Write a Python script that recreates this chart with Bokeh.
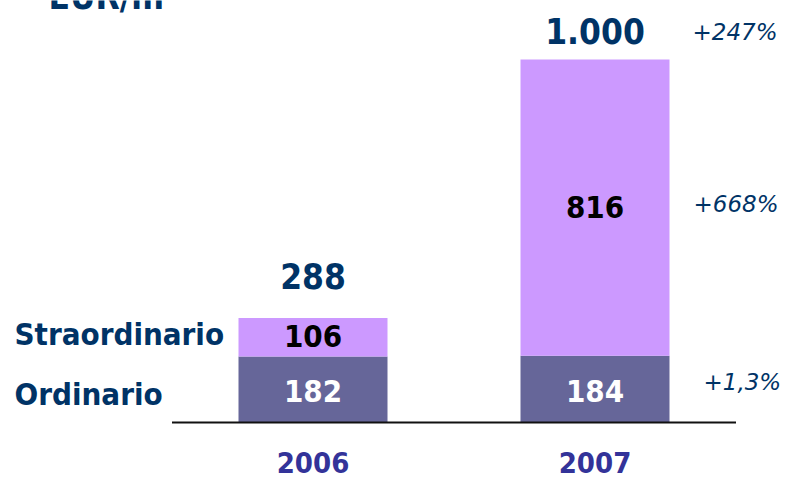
from bokeh.plotting import figure
from bokeh.models import Range1d, Label, ColumnDataSource
from bokeh.core.properties import value
from bokeh.embed import file_html
from bokeh.resources import INLINE

# ---- data ----
years = ["2006", "2007"]
ordinario = [182, 184]
straordinario = [106, 816]
total_labels = ["288", "1.000"]
ord_labels = ["182", "184"]
stra_labels = ["106", "816"]
series_names = ["Straordinario", "Ordinario"]
growth_total = "+247%"
growth_stra = "+668%"
growth_ord = "+1,3%"
unit_title = "EUR/m"

# ---- layout constants ----
W, H = 785, 479
BASE_PX = 422          # canvas y of zero line
PX_PER_UNIT = 0.363    # vertical pixels per value unit
X_PX = 282             # pixels between bar centres
X0_PX = 312.5          # canvas x of first bar centre

FONT = value("DejaVu Sans Condensed")
DARK = "#003366"
YEAR_C = "#333399"
ORD_C = "#666699"
STRA_C = "#CC99FF"


def dy(px):
    return px / PX_PER_UNIT


def dx(px):
    return px / X_PX


p = figure(width=W, height=H,
           x_range=Range1d(-X0_PX / X_PX, (W - X0_PX) / X_PX),
           y_range=Range1d(-dy(H - BASE_PX), dy(BASE_PX)),
           output_backend="svg", toolbar_location=None,
           x_axis_type=None, y_axis_type=None, min_border=0,
           outline_line_color=None)
p.grid.visible = False
p.background_fill_color = "white"
p.border_fill_color = "white"

xs = list(range(len(years)))
tops = [o + s for o, s in zip(ordinario, straordinario)]
ord_mid = [o / 2 for o in ordinario]
stra_mid = [o + s / 2 for o, s in zip(ordinario, straordinario)]

src = ColumnDataSource(dict(x=xs, ordi=ordinario, top=tops))
bw = dx(149)
p.vbar(x="x", width=bw, bottom=0, top="ordi", source=src,
       fill_color=ORD_C, line_color=None)
p.vbar(x="x", width=bw, bottom="ordi", top="top", source=src,
       fill_color=STRA_C, line_color=None)

# zero line
p.segment(x0=[-0.5], y0=[0], x1=[1.5], y1=[0], line_color="#111111",
          line_width=2)

# inner labels (centred in each segment)
p.text(x=xs, y=[m - dy(1.5) for m in ord_mid], text=ord_labels,
       text_font=FONT, text_font_style="bold", text_font_size="31px",
       text_color="white", text_align="center", text_baseline="middle")
p.text(x=xs, y=[m + dy(1) for m in stra_mid],
       text=stra_labels, text_font=FONT, text_font_style="bold",
       text_font_size="31px", text_color="black", text_align="center",
       text_baseline="middle")

# totals
gaps = [41.5, 29]
p.text(x=xs, y=[t + dy(g) for t, g in zip(tops, gaps)], text=total_labels,
       text_font=FONT, text_font_style="bold", text_font_size="35px",
       text_color=DARK, text_align="center", text_baseline="middle")

# year labels
p.text(x=xs, y=[-dy(40)] * len(xs), text=years, text_font=FONT,
       text_font_style="bold", text_font_size="29px", text_color=YEAR_C,
       text_align="center", text_baseline="middle")

# series labels (left)
p.text(x=[-dx(X0_PX - 14)] * 2,
       y=[stra_mid[0] + dy(3), ord_mid[0] - dy(4.4)],
       text=series_names, text_font=FONT, text_font_style="bold",
       text_font_size="31px", text_color=DARK, text_align="left",
       text_baseline="middle")

# growth labels (right)
last = len(xs) - 1
p.text(x=[last + dx(97.5), last + dx(98.5), last + dx(108.5)],
       y=[tops[last] + dy(28), stra_mid[last] + dy(3.5), ord_mid[last] + dy(7)],
       text=[growth_total, growth_stra, growth_ord],
       text_font=value("DejaVu Sans"), text_font_style="italic",
       text_font_size="23px", text_color=DARK, text_align="left",
       text_baseline="middle")

# unit title (cut off at the top, as in the original)
p.add_layout(Label(x=48, y=H + 3.7, x_units="screen", y_units="screen",
                   text=unit_title, text_font="DejaVu Sans Condensed",
                   text_font_style="bold", text_font_size="35px",
                   text_color=DARK, text_baseline="middle"))

open("out.html", "w").write(file_html(p, INLINE))
